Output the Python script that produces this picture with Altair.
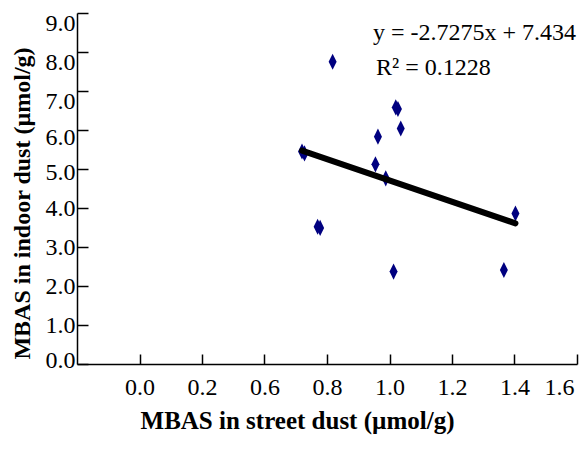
import altair as alt
import pandas as pd

# Data
street = [0.818, 1.020, 1.027, 1.036, 0.963, 0.720, 0.728, 0.955, 0.988, 0.770, 0.778, 1.013, 1.403, 1.366]
indoor = [7.75, 6.58, 6.54, 6.04, 5.83, 5.45, 5.40, 5.12, 4.76, 3.52, 3.49, 2.37, 3.86, 2.41]

slope = -2.7275
intercept = 7.434
eq_text = "y = -2.7275x + 7.434"
r2_text = "R\u00b2 = 0.1228"

x_tick_values = [0.2, 0.4, 0.6, 0.8, 1.0, 1.2, 1.4, 1.6]
x_tick_labels = ["0.0", "0.2", "0.6", "0.8", "1.0", "1.2", "1.4", "1.6"]
y_tick_values = [0, 1, 2, 3, 4, 5, 6, 7, 8, 9]

df = pd.DataFrame({"street": street, "indoor": indoor})
xmin, xmax = min(street), max(street)
trend = pd.DataFrame({"street": [xmin, xmax],
                      "indoor": [slope * xmin + intercept, slope * xmax + intercept]})

label_expr = " : ".join(
    [f"abs(datum.value - {v}) < 0.01 ? '{l}'" for v, l in zip(x_tick_values, x_tick_labels)]
) + " : ''"

FONT = "Liberation Serif"
xscale = alt.Scale(domain=[0, 1.6], nice=False, zero=False)
yscale = alt.Scale(domain=[0, 9], nice=False)

diamond = "M0,-1L0.5,0L0,1L-0.5,0Z"

y_label_offset = {
    "condition": [
        {"test": "datum.value >= 7", "value": 10},
        {"test": "datum.value == 6", "value": 7},
        {"test": "datum.value == 5", "value": 3},
        {"test": "datum.value == 0", "value": -4},
    ],
    "value": 0,
}

points = alt.Chart(df).mark_point(
    shape=diamond, filled=True, color="#000080", opacity=1, size=260
).encode(
    x=alt.X("street:Q", scale=xscale,
            axis=alt.Axis(orient="bottom", values=x_tick_values, labelExpr=label_expr,
                          ticks=False, grid=False, domainColor="black", domainWidth=1.5,
                          labelFont=FONT, labelFontSize=24, labelColor="black",
                          labelPadding=11, labelFlush=True, labelFlushOffset=-3,
                          title="MBAS in street dust (\u00b5mol/g)", titleFont=FONT,
                          titleFontSize=25, titleFontWeight="bold", titleColor="black",
                          titleX=220, titleY=64, titleBaseline="alphabetic",
                          titleAnchor="middle", titleAlign="center")),
    y=alt.Y("indoor:Q", scale=yscale,
            axis=alt.Axis(orient="left", values=y_tick_values, format=".1f",
                          ticks=False, grid=False, domainColor="black", domainWidth=1.5,
                          labelFont=FONT, labelFontSize=24, labelColor="black",
                          labelPadding=2, labelFlush=False, labelOffset=y_label_offset,
                          title="MBAS in indoor dust (\u00b5mol/g)", titleFont=FONT,
                          titleFontSize=24, titleFontWeight="bold", titleColor="black",
                          titleX=-55, titleY=190, titleAngle=-90,
                          titleBaseline="middle", titleAlign="center")),
)

line = alt.Chart(trend).mark_line(color="black", strokeWidth=6, strokeCap="round").encode(
    x=alt.X("street:Q", scale=xscale,
            axis=alt.Axis(orient="bottom", values=x_tick_values, labels=False, domain=False,
                          grid=False, ticks=True, tickSize=10, offset=-10, tickColor="black",
                          tickWidth=1.5, title=None)),
    y=alt.Y("indoor:Q", scale=yscale,
            axis=alt.Axis(orient="left", values=y_tick_values, labels=False, domain=False,
                          grid=False, ticks=True, tickSize=11, offset=-11, tickColor="black",
                          tickWidth=1.5, title=None)),
)

eq = alt.Chart(pd.DataFrame({"t": [eq_text]})).mark_text(
    font=FONT, fontSize=24, align="left", baseline="alphabetic", color="black"
).encode(text="t:N", x=alt.value(296), y=alt.value(27))

r2 = alt.Chart(pd.DataFrame({"t": [r2_text]})).mark_text(
    font=FONT, fontSize=24, align="left", baseline="alphabetic", color="black"
).encode(text="t:N", x=alt.value(299), y=alt.value(62))

chart = alt.layer(points, line, eq, r2).resolve_axis(
    x="independent", y="independent"
).properties(
    width=500, height=351,
    autosize=alt.AutoSizeParams(type="none"),
    padding={"left": 77, "top": 13, "right": 6, "bottom": 88},
    background="white",
).configure_view(stroke=None)

chart.save("out.html", embed_options={"renderer": "svg", "actions": False})
